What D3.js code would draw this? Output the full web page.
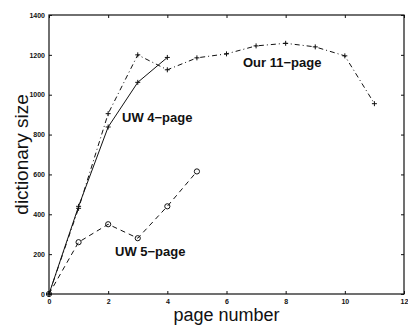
<!DOCTYPE html>
<html>
<head>
<meta charset="utf-8">
<script src="https://cdn.jsdelivr.net/npm/d3@7"></script>
<style>
  body { margin: 0; background: #fff; }
  svg { display: block; }
</style>
</head>
<body>
<div id="chart"></div>
<script>
// page numbers 0..11 and the dictionary size for each run
const pagesOurs = [0, 1, 2, 3, 4, 5, 6, 7, 8, 9, 10, 11];
const sizeOurs = [0, 430, 905, 1200, 1125, 1185, 1205, 1245, 1258, 1240, 1195, 955];

const pagesUW4 = [0, 1, 2, 3, 4];
const sizeUW4 = [0, 440, 838, 1062, 1187];

const pagesUW5 = [0, 1, 2, 3, 4, 5];
const sizeUW5 = [0, 260, 350, 280, 440, 615];

const xTicks = [0, 2, 4, 6, 8, 10, 12];
const yTicks = [0, 200, 400, 600, 800, 1000, 1200, 1400];

const width = 408, height = 326;
const margin = { top: 15, right: 4, bottom: 32, left: 49 };

const svg = d3.select('#chart').append('svg')
  .attr('width', width)
  .attr('height', height);

const x = d3.scaleLinear().domain([0, 12]).range([margin.left, width - margin.right]);
const y = d3.scaleLinear().domain([0, 1400]).range([height - margin.bottom, margin.top]);

const ink = '#111';
const fmt = d3.format('d');

// frame
svg.append('rect')
  .attr('x', x(0)).attr('y', y(1400))
  .attr('width', x(12) - x(0)).attr('height', y(0) - y(1400))
  .attr('fill', 'none').attr('stroke', ink).attr('stroke-width', 1.2);

// axes, ticks pointing inward like matlab
const tickFont = (g) => g.selectAll('text')
  .attr('font-family', 'Liberation Sans, Arial, sans-serif')
  .attr('font-size', 7).attr('font-weight', 'bold').attr('fill', ink);

svg.append('g')
  .attr('transform', `translate(0,${y(0)})`)
  .call(d3.axisBottom(x).tickValues(xTicks).tickFormat(fmt).tickSizeInner(-3).tickSizeOuter(0).tickPadding(5))
  .call((g) => g.select('.domain').remove())
  .call((g) => g.selectAll('line').attr('stroke', ink))
  .call(tickFont);

svg.append('g')
  .attr('transform', `translate(${x(0)},0)`)
  .call(d3.axisLeft(y).tickValues(yTicks).tickFormat(fmt).tickSizeInner(-3).tickSizeOuter(0).tickPadding(4))
  .call((g) => g.select('.domain').remove())
  .call((g) => g.selectAll('line').attr('stroke', ink))
  .call(tickFont);

// mirrored ticks on top and right
svg.append('g')
  .attr('transform', `translate(0,${y(1400)})`)
  .call(d3.axisTop(x).tickValues(xTicks).tickSizeInner(-3).tickSizeOuter(0).tickFormat(''))
  .call((g) => g.select('.domain').remove())
  .call((g) => g.selectAll('line').attr('stroke', ink));

svg.append('g')
  .attr('transform', `translate(${x(12)},0)`)
  .call(d3.axisRight(y).tickValues(yTicks).tickSizeInner(-3).tickSizeOuter(0).tickFormat(''))
  .call((g) => g.select('.domain').remove())
  .call((g) => g.selectAll('line').attr('stroke', ink));

const line = d3.line().x((d) => x(d[0])).y((d) => y(d[1]));

const series = [
  { pages: pagesOurs, sizes: sizeOurs, dash: '5,3,1,3', marker: 'plus' },
  { pages: pagesUW4, sizes: sizeUW4, dash: null, marker: 'plus' },
  { pages: pagesUW5, sizes: sizeUW5, dash: '5,4', marker: 'circle' },
];

series.forEach((s) => {
  const pts = s.pages.map((p, i) => [p, s.sizes[i]]);
  svg.append('path')
    .attr('d', line(pts))
    .attr('fill', 'none')
    .attr('stroke', ink)
    .attr('stroke-width', 1)
    .attr('stroke-dasharray', s.dash);

  const m = svg.append('g').selectAll('g').data(pts).join('g')
    .attr('transform', (d) => `translate(${x(d[0])},${y(d[1])})`);
  if (s.marker === 'plus') {
    m.append('path').attr('d', 'M-2.5,0H2.5M0,-2.5V2.5')
      .attr('stroke', ink).attr('stroke-width', 1);
  } else {
    m.append('circle').attr('r', 2.6)
      .attr('fill', 'none').attr('stroke', ink).attr('stroke-width', 1);
  }
});

// series labels
const labels = [
  { text: 'Our 11\u2212page', px: 243, py: 67 },
  { text: 'UW 4\u2212page', px: 122, py: 122 },
  { text: 'UW 5\u2212page', px: 115, py: 256 },
];
svg.append('g').selectAll('text').data(labels).join('text')
  .attr('x', (d) => d.px).attr('y', (d) => d.py)
  .attr('font-family', 'Liberation Sans, Arial, sans-serif')
  .attr('font-size', 13).attr('font-weight', 'bold').attr('fill', ink)
  .text((d) => d.text);

// axis titles
svg.append('text')
  .attr('x', (x(0) + x(12)) / 2).attr('y', 321)
  .attr('text-anchor', 'middle')
  .attr('font-family', 'Liberation Sans, Arial, sans-serif')
  .attr('font-size', 18).attr('fill', ink)
  .text('page number');

svg.append('text')
  .attr('transform', `translate(28,${(y(0) + y(1400)) / 2}) rotate(-90)`)
  .attr('text-anchor', 'middle')
  .attr('font-family', 'Liberation Sans, Arial, sans-serif')
  .attr('font-size', 19).attr('fill', ink)
  .text('dictionary size');
</script>
</body>
</html>
